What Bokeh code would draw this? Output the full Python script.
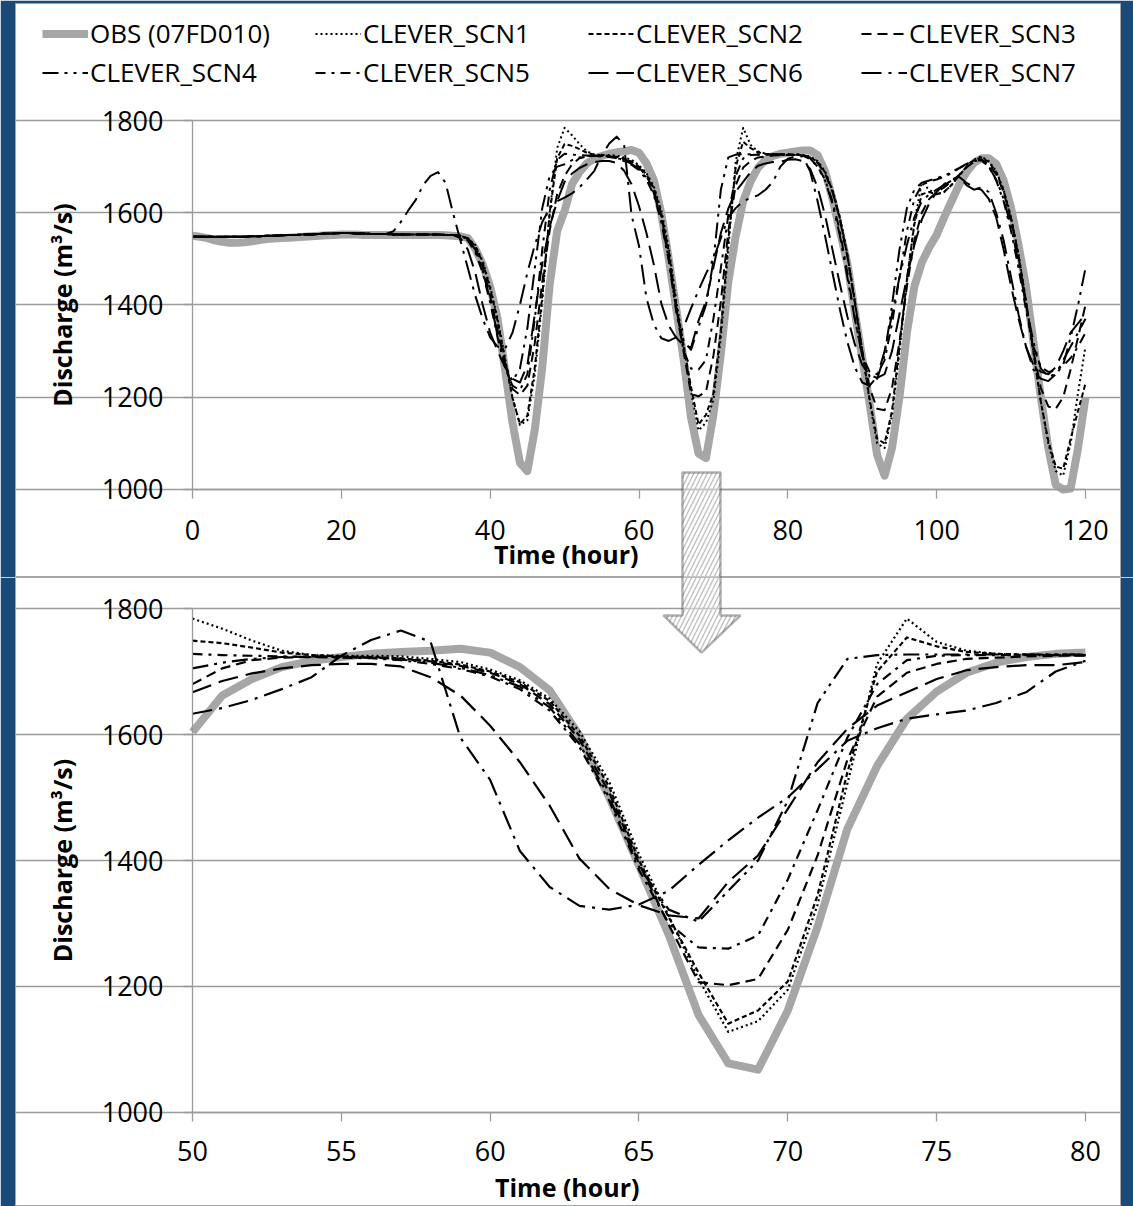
from bokeh.plotting import figure
from bokeh.models import Legend, LegendItem, Label, PolyAnnotation, FixedTicker, Range1d
from bokeh.layouts import column
from bokeh.embed import file_html
from bokeh.resources import INLINE

# ---------------- data (hourly discharge, m3/s) ----------------
hours = list(range(121))

obs = [
    1550, 1548, 1545, 1540, 1537, 1535, 1535, 1536, 1538, 1541,
    1543, 1544, 1545, 1546, 1547, 1548, 1549, 1550, 1551, 1552,
    1553, 1553, 1553, 1552, 1552, 1552, 1552, 1552, 1552, 1552,
    1552, 1552, 1552, 1552, 1551, 1550, 1549, 1545, 1522, 1488,
    1440, 1370, 1260, 1145, 1058, 1040, 1130, 1265, 1445, 1560,
    1604, 1662, 1688, 1707, 1717, 1723, 1728, 1731, 1733, 1736,
    1730, 1707, 1670, 1598, 1500, 1392, 1282, 1155, 1078, 1068,
    1162, 1295, 1450, 1550, 1625, 1668, 1698, 1714, 1723, 1728,
    1730, 1733, 1735, 1735, 1725, 1690, 1630, 1560, 1490, 1385,
    1285, 1185, 1075, 1030, 1090, 1200, 1340, 1440, 1492, 1525,
    1552, 1590, 1625, 1660, 1688, 1708, 1718, 1718, 1706, 1670,
    1610, 1530, 1440, 1320, 1200, 1090, 1010, 1000, 1002, 1090,
    1200]

scn1 = [
    1548, 1548, 1548, 1548, 1548, 1548, 1548, 1548, 1549, 1549,
    1550, 1550, 1551, 1552, 1552, 1553, 1553, 1554, 1555, 1555,
    1556, 1556, 1555, 1555, 1554, 1554, 1554, 1553, 1553, 1553,
    1553, 1553, 1553, 1553, 1552, 1552, 1550, 1545, 1530, 1495,
    1440, 1370, 1285, 1200, 1140, 1150, 1250, 1410, 1600, 1740,
    1784, 1768, 1749, 1733, 1726, 1725, 1725, 1724, 1720, 1715,
    1703, 1686, 1657, 1605, 1525, 1410, 1312, 1212, 1128, 1145,
    1195, 1330, 1522, 1712, 1784, 1747, 1733, 1728, 1726, 1726,
    1726, 1726, 1725, 1722, 1712, 1690, 1650, 1590, 1510, 1410,
    1300, 1190, 1100, 1090, 1160, 1300, 1450, 1580, 1665, 1650,
    1640, 1645, 1660, 1680, 1700, 1715, 1722, 1712, 1690, 1650,
    1590, 1510, 1410, 1300, 1190, 1100, 1040, 1030, 1100, 1210,
    1310]

scn2 = [
    1548, 1548, 1548, 1548, 1548, 1548, 1548, 1548, 1549, 1549,
    1550, 1550, 1551, 1552, 1552, 1553, 1553, 1554, 1555, 1555,
    1556, 1556, 1555, 1555, 1554, 1554, 1554, 1553, 1553, 1553,
    1553, 1553, 1553, 1553, 1552, 1552, 1550, 1544, 1528, 1492,
    1436, 1365, 1280, 1198, 1142, 1160, 1265, 1420, 1600, 1718,
    1749, 1745, 1738, 1730, 1726, 1724, 1723, 1721, 1717, 1711,
    1700, 1683, 1653, 1598, 1517, 1400, 1310, 1222, 1141, 1162,
    1208, 1345, 1540, 1700, 1754, 1740, 1731, 1728, 1727, 1727,
    1727, 1726, 1725, 1721, 1710, 1688, 1648, 1588, 1508, 1408,
    1300, 1195, 1110, 1100, 1170, 1310, 1455, 1575, 1640, 1645,
    1640, 1645, 1660, 1680, 1700, 1714, 1720, 1710, 1688, 1648,
    1588, 1508, 1408, 1298, 1190, 1105, 1050, 1045, 1110, 1170,
    1230]

scn3 = [
    1548, 1548, 1548, 1548, 1548, 1548, 1548, 1548, 1549, 1549,
    1550, 1550, 1551, 1552, 1552, 1553, 1553, 1554, 1555, 1555,
    1556, 1556, 1555, 1555, 1554, 1554, 1554, 1553, 1553, 1553,
    1553, 1553, 1553, 1553, 1552, 1552, 1550, 1545, 1525, 1482,
    1420, 1345, 1272, 1218, 1205, 1225, 1318, 1450, 1562, 1640,
    1680, 1705, 1718, 1722, 1723, 1723, 1722, 1720, 1716, 1709,
    1698, 1680, 1648, 1592, 1508, 1395, 1298, 1207, 1202, 1212,
    1290, 1408, 1560, 1660, 1698, 1712, 1720, 1722, 1724, 1725,
    1725, 1725, 1724, 1720, 1708, 1685, 1645, 1585, 1505, 1405,
    1300, 1220, 1175, 1172, 1220, 1320, 1440, 1540, 1600, 1630,
    1645, 1655, 1668, 1682, 1698, 1710, 1716, 1705, 1683, 1645,
    1585, 1505, 1405, 1300, 1220, 1180, 1175, 1200, 1260, 1330,
    1400]

scn4 = [
    1548, 1548, 1548, 1548, 1548, 1548, 1548, 1548, 1549, 1549,
    1550, 1550, 1551, 1552, 1552, 1553, 1553, 1554, 1555, 1555,
    1556, 1556, 1555, 1555, 1554, 1554, 1554, 1553, 1553, 1553,
    1553, 1553, 1553, 1553, 1552, 1552, 1550, 1542, 1520, 1475,
    1410, 1335, 1270, 1235, 1262, 1350, 1480, 1610, 1680, 1700,
    1705, 1714, 1720, 1723, 1724, 1723, 1722, 1719, 1714, 1706,
    1694, 1676, 1643, 1585, 1500, 1390, 1322, 1303, 1352, 1400,
    1495, 1650, 1720, 1726, 1727, 1727, 1727, 1727, 1727, 1727,
    1727, 1727, 1725, 1718, 1700, 1670, 1620, 1550, 1460, 1370,
    1290, 1245, 1240, 1290, 1400, 1520, 1610, 1650, 1665, 1670,
    1675, 1680, 1688, 1697, 1706, 1712, 1714, 1700, 1672, 1630,
    1570, 1490, 1400, 1320, 1262, 1245, 1250, 1270, 1330, 1400,
    1480]

scn5 = [
    1548, 1548, 1548, 1548, 1548, 1548, 1548, 1548, 1549, 1549,
    1550, 1550, 1551, 1552, 1552, 1553, 1553, 1554, 1555, 1555,
    1556, 1556, 1555, 1555, 1554, 1554, 1554, 1553, 1553, 1553,
    1553, 1553, 1553, 1553, 1552, 1552, 1550, 1540, 1515, 1470,
    1405, 1330, 1265, 1225, 1215, 1250, 1370, 1520, 1650, 1715,
    1728, 1726, 1725, 1724, 1723, 1722, 1721, 1718, 1712, 1704,
    1692, 1672, 1638, 1580, 1495, 1385, 1300, 1262, 1260, 1281,
    1370, 1480, 1595, 1680, 1718, 1725, 1726, 1726, 1726, 1726,
    1726, 1726, 1724, 1716, 1700, 1672, 1625, 1560, 1470, 1370,
    1290, 1255, 1250, 1280, 1360, 1460, 1560, 1630, 1660, 1668,
    1672, 1678, 1686, 1696, 1705, 1712, 1714, 1700, 1670, 1625,
    1560, 1480, 1390, 1310, 1265, 1255, 1258, 1268, 1285, 1310,
    1340]

scn6 = [
    1548, 1548, 1548, 1548, 1548, 1548, 1548, 1548, 1549, 1549,
    1550, 1550, 1551, 1552, 1552, 1553, 1553, 1554, 1555, 1555,
    1556, 1556, 1555, 1555, 1554, 1554, 1554, 1553, 1553, 1553,
    1553, 1553, 1553, 1553, 1552, 1552, 1545, 1520, 1470, 1400,
    1340, 1300, 1265, 1240, 1232, 1270, 1380, 1490, 1570, 1625,
    1667, 1685, 1697, 1705, 1710, 1712, 1712, 1708, 1691, 1662,
    1614, 1556, 1487, 1403, 1355, 1329, 1313, 1308, 1366, 1408,
    1482, 1556, 1609, 1646, 1667, 1688, 1702, 1707, 1710, 1710,
    1715, 1716, 1712, 1695, 1655, 1595, 1520, 1445, 1375, 1315,
    1270, 1248, 1242, 1250, 1300, 1380, 1460, 1530, 1585, 1620,
    1645, 1662, 1672, 1678, 1665, 1655, 1650, 1630, 1590, 1520,
    1440, 1370, 1310, 1270, 1255, 1250, 1265, 1300, 1340, 1360,
    1380]

scn7 = [
    1548, 1548, 1548, 1548, 1548, 1548, 1548, 1548, 1549, 1549,
    1550, 1550, 1551, 1552, 1552, 1553, 1553, 1554, 1555, 1555,
    1556, 1556, 1555, 1555, 1554, 1554, 1554, 1560, 1580, 1605,
    1628, 1660, 1680, 1688, 1665, 1600, 1540, 1480, 1420, 1370,
    1330, 1310, 1305, 1340, 1400, 1470, 1530, 1580, 1610, 1625,
    1633, 1642, 1655, 1672, 1691, 1725, 1750, 1765, 1747, 1595,
    1528, 1415, 1358, 1328, 1322, 1330, 1352, 1393, 1432, 1468,
    1500, 1545, 1590, 1610, 1625, 1632, 1638, 1650, 1667, 1700,
    1717, 1722, 1722, 1690, 1625, 1550, 1470, 1390, 1320, 1265,
    1232, 1225, 1245, 1300, 1380, 1460, 1530, 1590, 1625, 1640,
    1650, 1660, 1670, 1680, 1660, 1650, 1655, 1645, 1600, 1540,
    1460, 1380, 1310, 1260, 1240, 1235, 1250, 1280, 1310, 1340,
    1370]

series_names = ["OBS (07FD010)", "CLEVER_SCN1", "CLEVER_SCN2", "CLEVER_SCN3",
                "CLEVER_SCN4", "CLEVER_SCN5", "CLEVER_SCN6", "CLEVER_SCN7"]
series_values = [obs, scn1, scn2, scn3, scn4, scn5, scn6, scn7]

top_xticks = [0, 20, 40, 60, 80, 100, 120]
bottom_xticks = [50, 55, 60, 65, 70, 75, 80]
y_ticks = [1000, 1200, 1400, 1600, 1800]
zoom_window = (50, 80)   # hours shown in the lower chart

# ---------------- styles ----------------
FONT = "Open Sans"
GRID = "#9b9b9b"
BLUE = "#1a4a7a"
colors = ["#a6a6a6"] + ["black"] * 7
dashes = ["solid", "2 3", "5 3", "10 6", "16 6 3 6 3 6", "10 6 3 6", "20 8", "20 7 3 7"]


def make_fig(height, top_border, xr, yr, xticks, xbounds, x_standoff, xs, ys_list, black_w):
    p = figure(width=1133, height=height, x_range=Range1d(*xr), y_range=Range1d(*yr),
               toolbar_location=None, output_backend="svg", title=None,
               min_border_left=15, min_border_right=13,
               min_border_top=top_border, min_border_bottom=0)
    p.outline_line_color = "#a6a6a6"
    p.outline_line_width = 1
    p.background_fill_color = "white"
    p.border_fill_color = BLUE
    p.xgrid.visible = False
    p.ygrid.grid_line_color = GRID
    p.ygrid.grid_line_width = 1.3
    p.ygrid.bounds = xbounds
    for ax in (p.xaxis[0], p.yaxis[0]):
        ax.axis_line_color = GRID
        ax.axis_line_width = 1.3
        ax.major_tick_line_color = GRID
        ax.major_tick_line_width = 1.3
        ax.major_tick_out = 9
        ax.major_tick_in = 0
        ax.minor_tick_line_color = None
        ax.major_label_text_font = FONT
        ax.major_label_text_font_size = "27px"
        ax.major_label_text_color = "black"
    p.xaxis.ticker = FixedTicker(ticks=xticks)
    p.yaxis.ticker = FixedTicker(ticks=y_ticks)
    p.xaxis.bounds = xbounds
    p.yaxis.bounds = (1000, 1800)
    p.xaxis.fixed_location = 1000
    p.yaxis.fixed_location = xbounds[0]
    p.xaxis.major_label_standoff = x_standoff
    p.yaxis.major_label_standoff = 20
    p.yaxis.axis_label = "Discharge (m³/s)"
    p.yaxis.axis_label_text_font = FONT
    p.yaxis.axis_label_text_font_style = "bold"
    p.yaxis.axis_label_text_font_size = "25px"
    p.yaxis.axis_label_text_color = "black"
    p.yaxis.axis_label_standoff = 20
    renderers = []
    for i, (vals, c, d) in enumerate(zip(ys_list, colors, dashes)):
        w = 8 if i == 0 else black_w
        r = p.line(xs, vals, line_color=c, line_width=w, line_dash=d, line_join="round")
        renderers.append(r)
    return p, renderers


def arrow(xs, ys):
    return PolyAnnotation(xs=xs, ys=ys, fill_color="white", line_color="black", line_width=2.5,
                          hatch_pattern="/", hatch_color="#c4c4c4", hatch_scale=9,
                          hatch_weight=1.5)


# ---------------- top chart (0-120 h) ----------------
top, top_r = make_fig(577, 3, (-23.785, 124.703), (809.21, 2053.66), top_xticks, (0, 120), 22,
                      hours, series_values, 2.0)
top.add_layout(Label(x=50.23, y=860, text="Time (hour)", text_font=FONT, text_font_style="bold",
                     text_font_size="25px", text_align="center", text_baseline="middle",
                     text_color="black"))
legend = Legend(items=[LegendItem(label=n, renderers=[r]) for n, r in zip(series_names, top_r)],
                location=(27, 487), orientation="horizontal", ncols=4,
                glyph_width=46, glyph_height=35, label_height=35, label_width=222,
                label_standoff=2, spacing=3, padding=0, margin=0,
                label_text_font=FONT, label_text_font_size="26px", label_text_color="black",
                border_line_color=None, background_fill_alpha=0)
top.add_layout(legend)
top.add_layout(arrow([65.84, 70.95, 70.95, 65.84], [1037, 1037, 700, 700]))

# ---------------- bottom chart (zoom 50-80 h) ----------------
a, b = zoom_window
bh = hours[a:b + 1]
bvals = [v[a:b + 1] for v in series_values]
bottom, _ = make_fig(629, 0, (44.054, 81.176), (850.79, 1849.21), bottom_xticks, (50, 80), 20,
                     bh, bvals, 2.2)
bottom.add_layout(Label(x=62.59, y=881, text="Time (hour)", text_font=FONT, text_font_style="bold",
                        text_font_size="25px", text_align="center", text_baseline="middle",
                        text_color="black"))
bottom.add_layout(arrow([66.46, 67.74, 67.74, 68.41, 67.10, 65.82, 66.46],
                        [1900, 1900, 1789, 1789, 1730, 1789, 1789]))

layout = column(top, bottom)
open("out.html", "w").write(file_html(layout, INLINE))
